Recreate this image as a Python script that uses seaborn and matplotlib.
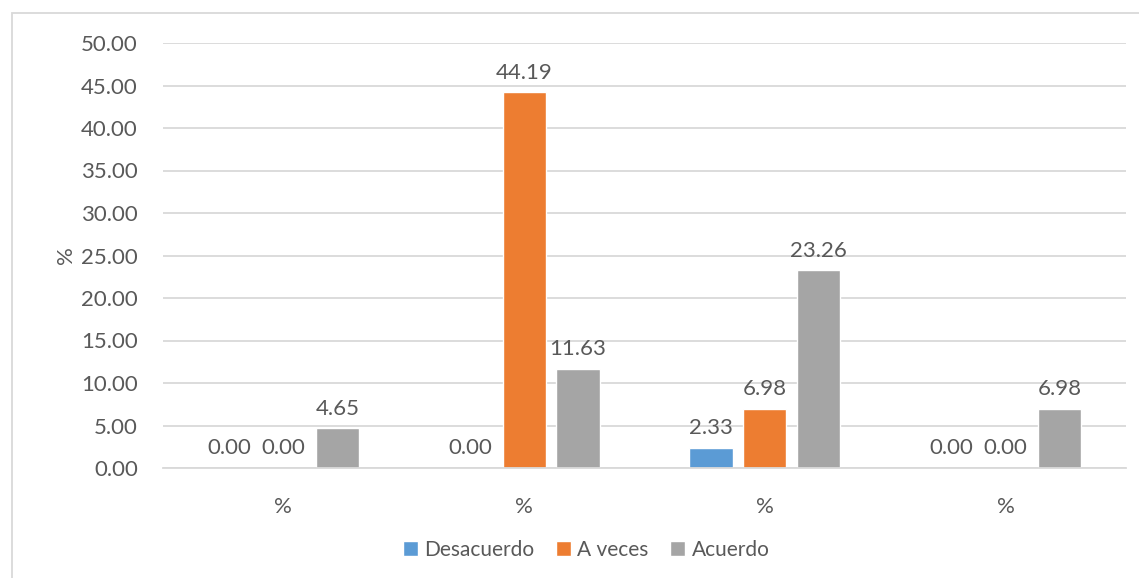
import matplotlib
matplotlib.use("Agg")
import matplotlib.pyplot as plt
import seaborn as sns
import pandas as pd

# data
grupos = ["%", "%", "%", "%"]
series = ["Desacuerdo", "A veces", "Acuerdo"]
desacuerdo = [0.00, 0.00, 2.33, 0.00]
a_veces = [0.00, 44.19, 6.98, 0.00]
acuerdo = [4.65, 11.63, 23.26, 6.98]
colores = ["#5B9BD5", "#ED7D31", "#A5A5A5"]

filas = []
for nombre, valores in zip(series, [desacuerdo, a_veces, acuerdo]):
    for i, v in enumerate(valores):
        filas.append({"grupo": i, "serie": nombre, "valor": v})
df = pd.DataFrame(filas)

sns.set_style("white")
plt.rcParams['font.family'] = ['Lato', 'DejaVu Sans']
gris_txt = "#595959"
gris_lin = "#D9D9D9"
fs = 16

fig = plt.figure(figsize=(11.39, 5.78), dpi=100)
ax = fig.add_axes([163/1139, 1 - 468/578, (1126-163)/1139, (468-43)/578])

sns.barplot(data=df, x="grupo", y="valor", hue="serie", hue_order=series,
            palette=colores, width=0.672, gap=0.2, ax=ax, errorbar=None,
            saturation=1)

for cont in ax.containers:
    ax.bar_label(cont, fmt="%.2f", padding=7, fontsize=fs, color=gris_txt)

ax.set_ylim(0, 50)
ax.set_yticks(range(0, 51, 5))
ax.set_yticklabels([f"{v:.2f}" for v in range(0, 51, 5)])
ax.set_xticks(range(len(grupos)))
ax.set_xticklabels(grupos)
ax.set_xlim(-0.5, len(grupos) - 0.5)
ax.set_xlabel("")
ax.set_ylabel("%", fontsize=fs, color=gris_txt, labelpad=4)

ax.yaxis.grid(True, color=gris_lin, linewidth=1.3)
ax.set_axisbelow(True)
for s in ["top", "right", "left"]:
    ax.spines[s].set_visible(False)
ax.spines["bottom"].set_color(gris_lin)
ax.spines["bottom"].set_linewidth(1.3)

ax.tick_params(axis="y", length=0, labelsize=fs, labelcolor=gris_txt, pad=18)
ax.tick_params(axis="x", which="major", length=0, labelsize=fs,
               labelcolor=gris_txt, pad=21)
ax.set_xticks([-0.5, len(grupos) - 0.5], minor=True)
ax.tick_params(axis="x", which="minor", length=34, width=1.3, color=gris_lin,
               direction="out")

leg = ax.legend(loc="center", bbox_to_anchor=(586/1139, 1 - 550/578),
                bbox_transform=fig.transFigure, ncol=3, frameon=False,
                fontsize=15, handlelength=0.75, handleheight=0.75,
                handletextpad=0.3, columnspacing=1.0)
for t in leg.get_texts():
    t.set_color(gris_txt)

# chart-area border
borde = plt.Rectangle((12/1139, -0.01), 1.0, 1 - 13/578 + 0.01,
                      transform=fig.transFigure, fill=False,
                      edgecolor=gris_lin, linewidth=1.3)
fig.patches.append(borde)

fig.savefig("out.png", dpi=100)
plt.close(fig)
